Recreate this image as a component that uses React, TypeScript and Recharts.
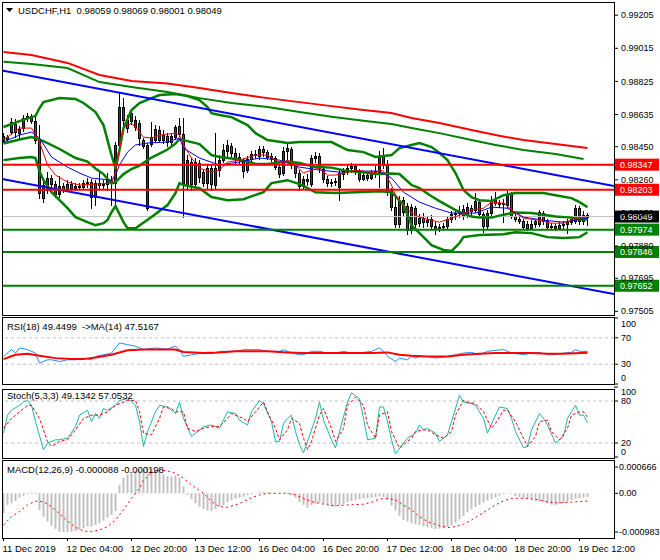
import React from 'react';
import { ComposedChart, Bar, Line, XAxis, YAxis, ReferenceLine } from 'recharts';

const FONT = '"Liberation Sans", Arial, sans-serif';
const FS = 9.5;
const AXIS_FS = 9;

// USDCHF H1 candles, bar 0 = 11 Dec 12:00 ... bar 146 = 19 Dec 14:00
const opens = [
  0.98488, 0.98505, 0.98534, 0.9858, 0.98528, 0.98557, 0.98615, 0.98626, 0.98597, 0.98488,
  0.9823, 0.98201, 0.9827, 0.98235, 0.98178, 0.98224, 0.98207, 0.98235, 0.98212, 0.98224,
  0.98218, 0.98241, 0.98247, 0.98161, 0.98241, 0.9823, 0.98235, 0.98258, 0.98241, 0.9846,
  0.98678, 0.98603, 0.98643, 0.98563, 0.98586, 0.98488, 0.98097, 0.98465, 0.98488, 0.98546,
  0.98488, 0.98511, 0.98477, 0.98505, 0.98569, 0.98523, 0.9823, 0.98362, 0.98235, 0.98356,
  0.98304, 0.98241, 0.98327, 0.9823, 0.98316, 0.98373, 0.98425, 0.98454, 0.98414, 0.98391,
  0.98368, 0.98316, 0.98379, 0.98408, 0.98396, 0.98437, 0.98419, 0.98396, 0.98385, 0.98333,
  0.98299, 0.98425, 0.98437, 0.98345, 0.98299, 0.98224, 0.98264, 0.98235, 0.98385, 0.98396,
  0.98322, 0.98264, 0.98241, 0.98247, 0.98218, 0.98293, 0.98304, 0.98327, 0.98339, 0.9831,
  0.98264, 0.98287, 0.9827, 0.98293, 0.98304, 0.98396, 0.98345, 0.98201, 0.98103, 0.98005,
  0.98143, 0.98109, 0.97971, 0.98097, 0.98011, 0.9804, 0.98017, 0.98034, 0.97994, 0.97977,
  0.97988, 0.97994, 0.98034, 0.98063, 0.98069, 0.98051, 0.98063, 0.98097, 0.98086, 0.98132,
  0.98063, 0.97994, 0.98069, 0.98143, 0.98126, 0.9812, 0.98115, 0.98178, 0.98051, 0.98034,
  0.98023, 0.98005, 0.97982, 0.98005, 0.98005, 0.98069, 0.98023, 0.97988, 0.97994, 0.97982,
  0.98, 0.98005, 0.98017, 0.98023, 0.98097, 0.98023, 0.98059,
];
const highs = [
  0.98528, 0.98517, 0.98615, 0.98609, 0.98569, 0.98632, 0.98643, 0.98637, 0.9862, 0.98574,
  0.9827, 0.98304, 0.98287, 0.98253, 0.98281, 0.98241, 0.98258, 0.98253, 0.98241, 0.98241,
  0.98258, 0.9827, 0.98264, 0.98258, 0.98316, 0.98258, 0.98299, 0.98281, 0.98477, 0.98764,
  0.98729, 0.98632, 0.9866, 0.98626, 0.98603, 0.985, 0.98471, 0.98592, 0.98574, 0.98569,
  0.98546, 0.98528, 0.98528, 0.98574, 0.98615, 0.98615, 0.98402, 0.98385, 0.98385, 0.98373,
  0.98316, 0.9835, 0.98345, 0.98528, 0.98402, 0.98465, 0.98488, 0.98471, 0.98442, 0.98414,
  0.98385, 0.98396, 0.98425, 0.98431, 0.98454, 0.98454, 0.98431, 0.98414, 0.98396, 0.9835,
  0.98448, 0.98471, 0.98448, 0.98356, 0.98316, 0.98281, 0.98293, 0.98402, 0.98419, 0.98414,
  0.98339, 0.98281, 0.98264, 0.9827, 0.98316, 0.98327, 0.98345, 0.98356, 0.9835, 0.98322,
  0.9831, 0.98304, 0.98316, 0.98339, 0.98425, 0.98442, 0.98373, 0.98212, 0.98172, 0.98166,
  0.98161, 0.98126, 0.9812, 0.98109, 0.98063, 0.98069, 0.98051, 0.98057, 0.98017, 0.98005,
  0.98011, 0.98051, 0.9808, 0.98092, 0.98109, 0.98115, 0.98126, 0.98115, 0.98184, 0.98149,
  0.98074, 0.98086, 0.98166, 0.98189, 0.98143, 0.98149, 0.98195, 0.98189, 0.98069, 0.98051,
  0.98034, 0.98023, 0.98028, 0.98034, 0.98086, 0.9808, 0.98034, 0.98011, 0.98005, 0.98017,
  0.98023, 0.98034, 0.98051, 0.98115, 0.98109, 0.9808, 0.98069,
];
const lows = [
  0.98477, 0.98482, 0.98523, 0.98505, 0.98494, 0.9854, 0.98597, 0.98586, 0.98471, 0.98155,
  0.98132, 0.98184, 0.98212, 0.98161, 0.98161, 0.98189, 0.98195, 0.98201, 0.98201, 0.98207,
  0.98207, 0.98218, 0.98097, 0.98115, 0.98212, 0.98207, 0.98201, 0.98115, 0.98115, 0.98431,
  0.98563, 0.98534, 0.9858, 0.98546, 0.9846, 0.98442, 0.98086, 0.98454, 0.98477, 0.98477,
  0.98471, 0.98454, 0.98465, 0.98494, 0.98511, 0.98046, 0.98212, 0.98201, 0.98218, 0.98247,
  0.98224, 0.98212, 0.98201, 0.98207, 0.98281, 0.98362, 0.98391, 0.98385, 0.98356, 0.98356,
  0.98276, 0.98304, 0.98368, 0.98385, 0.98379, 0.98396, 0.98379, 0.98368, 0.98322, 0.98276,
  0.98287, 0.98373, 0.98327, 0.98276, 0.98201, 0.98207, 0.9823, 0.98224, 0.98362, 0.98304,
  0.98247, 0.98224, 0.98224, 0.9823, 0.98143, 0.98264, 0.98293, 0.98304, 0.98293, 0.98253,
  0.98258, 0.98258, 0.98264, 0.98276, 0.98218, 0.98327, 0.98172, 0.98086, 0.97988, 0.97988,
  0.98057, 0.97948, 0.97954, 0.97988, 0.97994, 0.97988, 0.97994, 0.97977, 0.97948, 0.97965,
  0.97971, 0.97982, 0.98017, 0.98034, 0.98046, 0.98034, 0.98046, 0.98057, 0.98074, 0.98046,
  0.97959, 0.97977, 0.98057, 0.98115, 0.98103, 0.98017, 0.98097, 0.9804, 0.98023, 0.98011,
  0.97977, 0.97971, 0.97977, 0.97988, 0.97994, 0.98005, 0.97977, 0.97977, 0.97971, 0.97977,
  0.97982, 0.97954, 0.98005, 0.98011, 0.98005, 0.98005, 0.98001,
];
const closes = [
  0.98511, 0.98494, 0.98592, 0.98534, 0.98551, 0.98615, 0.98626, 0.98597, 0.98488, 0.98184,
  0.98155, 0.9827, 0.98235, 0.98178, 0.98224, 0.98207, 0.98235, 0.98212, 0.98224, 0.98218,
  0.98241, 0.98247, 0.98161, 0.98241, 0.9823, 0.98235, 0.98258, 0.98241, 0.9846, 0.98678,
  0.98603, 0.98557, 0.98597, 0.98603, 0.985, 0.98454, 0.9846, 0.98505, 0.98551, 0.98488,
  0.98517, 0.98477, 0.98511, 0.98563, 0.98523, 0.98241, 0.98373, 0.98235, 0.98362, 0.98276,
  0.98241, 0.98327, 0.98235, 0.98327, 0.98373, 0.98431, 0.9846, 0.98414, 0.98385, 0.98373,
  0.9831, 0.98379, 0.98408, 0.98402, 0.98437, 0.98419, 0.98391, 0.98385, 0.98333, 0.98293,
  0.98425, 0.98442, 0.98345, 0.98299, 0.98224, 0.98264, 0.98253, 0.98385, 0.98396, 0.98327,
  0.98264, 0.98241, 0.98247, 0.98253, 0.98299, 0.9831, 0.98327, 0.98339, 0.9831, 0.98264,
  0.98287, 0.9827, 0.98293, 0.9831, 0.98396, 0.98345, 0.98201, 0.98103, 0.98005, 0.98143,
  0.98074, 0.97971, 0.98103, 0.98005, 0.9804, 0.98017, 0.98028, 0.97994, 0.97977, 0.97988,
  0.97994, 0.98034, 0.98063, 0.98069, 0.9808, 0.98092, 0.98103, 0.9808, 0.98138, 0.98063,
  0.97994, 0.98069, 0.98143, 0.98126, 0.9812, 0.98126, 0.98178, 0.98051, 0.98034, 0.98023,
  0.97988, 0.97982, 0.98005, 0.98023, 0.98074, 0.98023, 0.97988, 0.97994, 0.97982, 0.98,
  0.98005, 0.98017, 0.98034, 0.98097, 0.98023, 0.98057, 0.98049,
];

// indicator lines, [bar, value]
const slowMaRed = [
  [0, 0.98994], [7, 0.98976], [16, 0.98931], [24, 0.98862], [32, 0.98827], [41, 0.98813],
  [49, 0.98787], [57, 0.98758], [66, 0.98729], [74, 0.98706], [82, 0.98683], [90, 0.98661],
  [97, 0.98643], [102, 0.98615], [109, 0.98586], [117, 0.98546], [123, 0.98517], [130, 0.98488],
  [138, 0.98465], [146, 0.98442],
];
const slowMaGreen = [
  [0, 0.98938], [7, 0.98925], [16, 0.98902], [24, 0.98821], [32, 0.98793], [41, 0.98764],
  [49, 0.98729], [57, 0.98701], [66, 0.98678], [74, 0.98649], [82, 0.98622], [90, 0.98599],
  [97, 0.9858], [102, 0.98557], [109, 0.98528], [117, 0.98488], [123, 0.9846], [130, 0.98431],
  [138, 0.98408], [145, 0.98379],
];
const bbUpper = [
  [0, 0.98563], [4, 0.98597], [7, 0.9862], [8, 0.98626], [9, 0.98672], [10, 0.98706], [14, 0.98729],
  [18, 0.98724], [20, 0.98701], [23, 0.98649], [25, 0.98574], [26, 0.98488], [27, 0.98402],
  [28, 0.98327], [29, 0.98431], [30, 0.98557], [32, 0.98661], [34, 0.98701], [37, 0.98729],
  [39, 0.98747], [43, 0.98752], [46, 0.98741], [49, 0.98718], [51, 0.98678], [52, 0.98643],
  [54, 0.98632], [57, 0.9862], [61, 0.98574], [63, 0.98528], [66, 0.98488], [71, 0.98471],
  [74, 0.98477], [82, 0.98477], [86, 0.98431], [90, 0.98419], [93, 0.98391], [97, 0.98402],
  [99, 0.98442], [102, 0.9846], [104, 0.98471], [107, 0.98448], [109, 0.98414], [111, 0.98373],
  [113, 0.98299], [115, 0.98201], [117, 0.98161], [119, 0.98143], [122, 0.98138], [125, 0.98172],
  [128, 0.98184], [135, 0.98184], [138, 0.98172], [142, 0.98155], [144, 0.98132], [146, 0.98103],
];
const bbMiddle = [
  [0, 0.98468], [4, 0.98491], [7, 0.98505], [10, 0.98482], [14, 0.98437], [18, 0.98385],
  [21, 0.98365], [23, 0.98325], [25, 0.98293], [27, 0.98239], [28, 0.98247], [29, 0.9827],
  [30, 0.98293], [32, 0.98322], [34, 0.98342], [37, 0.98388], [39, 0.98411], [41, 0.98434],
  [43, 0.98468], [44, 0.98494], [46, 0.98482], [49, 0.98465], [52, 0.98402], [54, 0.98391],
  [57, 0.98382], [61, 0.98365], [63, 0.98351], [66, 0.98351], [71, 0.98365], [74, 0.98356],
  [78, 0.98333], [82, 0.9833], [86, 0.9831], [90, 0.98304], [93, 0.98293], [97, 0.98296],
  [99, 0.98293], [102, 0.9823], [104, 0.98212], [107, 0.98166], [109, 0.98138], [111, 0.98112],
  [113, 0.98086], [115, 0.98066], [117, 0.98049], [119, 0.98043], [122, 0.98043], [125, 0.9806],
  [128, 0.98072], [132, 0.98069], [135, 0.9806], [138, 0.98049], [142, 0.98043], [144, 0.98032],
  [146, 0.98032],
];
const bbLower = [
  [0, 0.98373], [4, 0.98385], [7, 0.98391], [8, 0.98385], [9, 0.9831], [10, 0.98258], [12, 0.98189],
  [14, 0.98143], [16, 0.98097], [18, 0.98046], [21, 0.98017], [23, 0.98], [25, 0.98011],
  [26, 0.98029], [27, 0.98074], [28, 0.98109], [29, 0.98063], [30, 0.98017], [31, 0.97982],
  [33, 0.97982], [37, 0.98046], [41, 0.98115], [43, 0.98184], [44, 0.98241], [45, 0.9823],
  [49, 0.98212], [52, 0.98161], [56, 0.98143], [60, 0.98149], [65, 0.98189], [67, 0.98241],
  [71, 0.98258], [74, 0.98235], [78, 0.98189], [83, 0.98184], [88, 0.98189], [94, 0.98195],
  [97, 0.98189], [98, 0.98166], [100, 0.98115], [102, 0.98], [105, 0.97931], [107, 0.97885],
  [110, 0.97857], [112, 0.97851], [114, 0.97897], [115, 0.97931], [119, 0.97943], [125, 0.97948],
  [128, 0.97959], [132, 0.97954], [136, 0.97931], [140, 0.97926], [144, 0.97931], [146, 0.97959],
];
const fastMaRed = [
  [0, 0.98488], [4, 0.98557], [7, 0.98557], [9, 0.98477], [11, 0.98345], [13, 0.98287],
  [16, 0.98247], [19, 0.9823], [27, 0.98241], [28, 0.98304], [29, 0.98431], [30, 0.98557],
  [32, 0.98586], [34, 0.98534], [35, 0.98505], [37, 0.985], [39, 0.98517], [43, 0.98528],
  [44, 0.98517], [45, 0.9846], [47, 0.98385], [49, 0.98327], [52, 0.98304], [54, 0.98316],
  [56, 0.98362], [59, 0.98373], [63, 0.98402], [66, 0.98402], [68, 0.98373], [70, 0.98356],
  [71, 0.98373], [73, 0.98345], [75, 0.98299], [77, 0.98316], [79, 0.98327], [81, 0.98287],
  [83, 0.98287], [86, 0.98304], [88, 0.98316], [93, 0.98299], [94, 0.98316], [95, 0.9831],
  [97, 0.9823], [98, 0.98172], [100, 0.98115], [102, 0.98069], [104, 0.98046], [107, 0.98028],
  [109, 0.98017], [112, 0.9804], [114, 0.98057], [117, 0.98086], [120, 0.98097], [122, 0.98132],
  [125, 0.98126], [128, 0.98069], [130, 0.9804], [134, 0.98028], [137, 0.98011], [140, 0.98011],
  [143, 0.9804], [146, 0.98046],
];
const fastMaBlue = [
  [0, 0.98477], [4, 0.98517], [7, 0.98534], [9, 0.985], [12, 0.98391], [16, 0.98333],
  [19, 0.98299], [22, 0.9827], [27, 0.98258], [28, 0.98287], [29, 0.98345], [31, 0.98419],
  [33, 0.9846], [36, 0.98471], [41, 0.98477], [44, 0.985], [45, 0.98442], [49, 0.98385],
  [54, 0.98345], [57, 0.98356], [59, 0.98362], [64, 0.98385], [69, 0.98373], [74, 0.98333],
  [79, 0.98316], [84, 0.98304], [88, 0.9831], [94, 0.9831], [97, 0.9827], [100, 0.98189],
  [104, 0.98132], [108, 0.98097], [112, 0.98069], [118, 0.98069], [122, 0.98103], [126, 0.98097],
  [130, 0.98046], [135, 0.98028], [140, 0.98017], [146, 0.9804],
];

// drawn objects
const trendUpper = [[-0.375, 0.98887], [152.625, 0.98224]];
const trendLower = [[-0.375, 0.98265], [152.625, 0.97604]];
const redLevels = [0.98347, 0.98203];
const greenLevels = [0.97974, 0.97846, 0.97652];
const lastPrice = 0.98049;
const priceTicks = [0.99205, 0.99015, 0.98825, 0.98635, 0.9845, 0.9826, 0.9807, 0.9788, 0.97695, 0.97505];

// RSI(18) and its MA(14)
const rsiLine = [
  [0, 41.8], [2, 52.1], [3, 46.9], [4, 54.6], [6, 52.1], [8, 46.9], [9, 31.5], [11, 36.7], [12, 36.7],
  [14, 34.1], [16, 36.7], [18, 36.7], [20, 39.2], [22, 36.7], [23, 41.8], [25, 44.4], [27, 46.9],
  [29, 62.3], [31, 59.7], [33, 57.2], [35, 52.1], [36, 53.1], [38, 54.6], [40, 53.1], [41, 53.1],
  [43, 57.2], [44, 52.1], [45, 41.8], [47, 44.4], [50, 46.9], [52, 45.9], [54, 49.5], [56, 49.5],
  [58, 49.5], [60, 52.1], [62, 52.1], [64, 52.1], [66, 49.5], [69, 49.5], [70, 52.1], [72, 46.9],
  [74, 44.4], [75, 44.4], [77, 49.5], [79, 49.5], [81, 46.9], [83, 46.9], [85, 49.5], [87, 46.9],
  [90, 47.9], [92, 49.5], [94, 54.6], [95, 49.5], [96, 41.8], [98, 34.1], [99, 39.2], [101, 36.7],
  [102, 41.8], [103, 39.2], [104, 41.8], [106, 41.8], [108, 39.2], [111, 41.8], [113, 44.4],
  [115, 46.9], [117, 47.9], [119, 44.4], [121, 49.5], [123, 51.0], [125, 52.1], [127, 46.9],
  [130, 44.4], [132, 46.9], [134, 47.9], [136, 44.4], [138, 44.4], [140, 46.9], [142, 47.9],
  [143, 52.1], [144, 49.5], [146, 49.4],
];
const rsiMa = [
  [0, 37.7], [3, 44.4], [6, 45.9], [9, 42.8], [13, 39.2], [17, 37.7], [20, 37.7], [23, 40.3],
  [27, 44.4], [31, 51.0], [35, 52.1], [39, 52.1], [43, 52.1], [45, 48.5], [50, 46.9], [54, 47.9],
  [58, 49.5], [62, 49.5], [66, 49.5], [71, 47.9], [75, 46.9], [79, 46.9], [83, 46.9], [87, 46.9],
  [92, 46.9], [96, 47.9], [99, 44.4], [102, 42.8], [106, 41.8], [111, 41.8], [115, 44.4],
  [119, 45.9], [123, 46.9], [127, 46.9], [132, 46.9], [136, 45.9], [140, 45.9], [146, 47.5],
];

// Stochastic(5,3,3)
const stochMain = [
  [0, 34.0], [1, 59.8], [2, 66.8], [4, 73.8], [5, 78.5], [6, 80.9], [7, 73.8], [8, 50.4], [10, 10.5],
  [11, 19.9], [13, 24.6], [14, 24.6], [16, 26.9], [18, 43.4], [19, 59.8], [21, 66.8], [22, 50.4],
  [23, 62.1], [24, 55.1], [25, 69.2], [26, 66.8], [28, 73.8], [29, 80.9], [31, 83.2], [32, 79.4],
  [33, 73.8], [34, 50.4], [35, 15.2], [36, 36.3], [38, 64.5], [39, 73.8], [41, 71.5], [42, 66.8],
  [43, 62.1], [44, 78.5], [45, 55.1], [47, 29.3], [49, 38.7], [50, 43.4], [52, 45.7], [54, 41.0],
  [56, 64.5], [58, 62.1], [59, 52.7], [61, 45.7], [62, 64.5], [64, 80.9], [65, 76.2], [67, 50.4],
  [68, 22.3], [69, 22.3], [70, 48.0], [71, 55.1], [72, 59.8], [73, 36.3], [74, 17.6], [75, 5.9],
  [76, 22.3], [78, 55.1], [79, 78.5], [80, 52.7], [82, 24.6], [83, 12.9], [84, 36.3], [86, 78.5],
  [87, 91.7], [89, 83.2], [90, 55.1], [91, 24.6], [93, 26.9], [94, 71.5], [95, 71.5], [96, 50.4],
  [97, 24.6], [98, 4.5], [100, 19.9], [101, 26.9], [103, 34.0], [104, 45.7], [105, 38.7], [106, 41.0],
  [108, 34.0], [109, 22.3], [111, 31.6], [112, 50.4], [114, 87.9], [115, 78.5], [117, 76.2],
  [118, 73.8], [120, 55.1], [121, 34.0], [123, 59.8], [124, 71.5], [126, 69.2], [127, 55.1],
  [128, 36.3], [130, 12.9], [131, 15.2], [132, 38.7], [134, 62.1], [135, 55.1], [136, 45.7],
  [138, 19.9], [140, 29.3], [141, 55.1], [143, 73.8], [144, 59.8], [145, 59.8], [146, 49.1],
];
const stochSignal = [
  [0, 41.0], [2, 55.1], [4, 64.5], [6, 73.8], [7, 73.8], [9, 55.1], [11, 22.3], [12, 15.2], [14, 22.3],
  [16, 24.6], [18, 38.7], [20, 55.1], [22, 59.8], [24, 59.8], [26, 64.5], [28, 73.8], [31, 80.9],
  [33, 80.9], [34, 64.5], [35, 34.0], [37, 31.6], [39, 55.1], [40, 71.5], [42, 69.2], [43, 64.5],
  [45, 64.5], [46, 41.0], [48, 36.3], [50, 41.0], [52, 43.4], [54, 43.4], [56, 55.1], [57, 62.1],
  [60, 55.1], [61, 50.4], [63, 64.5], [65, 78.5], [66, 64.5], [68, 41.0], [69, 24.6], [71, 38.7],
  [72, 55.1], [74, 48.0], [75, 26.9], [76, 10.5], [77, 22.3], [79, 59.8], [80, 69.2], [82, 41.0],
  [83, 22.3], [85, 41.0], [86, 73.8], [88, 85.5], [90, 73.8], [91, 45.7], [93, 26.9], [94, 59.8],
  [96, 64.5], [97, 36.3], [99, 12.9], [100, 17.6], [102, 26.9], [103, 36.3], [105, 38.7],
  [106, 38.7], [108, 31.6], [110, 26.9], [112, 36.3], [113, 59.8], [115, 80.9], [116, 78.5],
  [118, 76.2], [120, 64.5], [122, 41.0], [123, 48.0], [125, 66.8], [126, 66.8], [128, 50.4],
  [130, 26.9], [131, 15.2], [133, 29.3], [134, 50.4], [136, 52.7], [137, 36.3], [139, 24.6],
  [141, 41.0], [142, 59.8], [144, 64.5], [145, 64.5], [146, 57.1],
];

// MACD(12,26,9): main line as histogram, one value per bar
const macdMain = [
  -0.000508, -0.000296, -0.000254, -0.000195, -0.00011, -0.000059, -0.000025, -0.000017, -0.000025, -0.000423,
  -0.000592, -0.000719, -0.000821, -0.000905, -0.000973, -0.000983, -0.00098, -0.000973, -0.000956, -0.000931,
  -0.000888, -0.000846, -0.000846, -0.000804, -0.000761, -0.000694, -0.000618, -0.00055, -0.000448, 0.000212,
  0.000398, 0.000482, 0.000533, 0.000575, 0.000601, 0.000618, 0.000666, 0.000618, 0.000592, 0.00055,
  0.000482, 0.00044, 0.000423, 0.000448, 0.000398, 0.000169, -0.000042, -0.000152, -0.000254, -0.000338,
  -0.000398, -0.00044, -0.000448, -0.000406, -0.000338, -0.000296, -0.000228, -0.000178, -0.000135, -0.00011,
  -0.000085, -0.000051, -0.000025, 0.000004, 0.000025, 0.000034, 0.000025, 0.000017, 0.000008, -0.000008,
  0.000002, -0.000017, -0.000051, -0.00011, -0.000212, -0.000296, -0.000364, -0.000296, -0.000262, -0.000228,
  -0.000262, -0.000296, -0.000338, -0.000338, -0.000296, -0.000262, -0.00022, -0.000195, -0.000169, -0.000152,
  -0.000135, -0.000118, -0.00011, -0.000102, -0.000076, -0.000093, -0.000178, -0.000313, -0.00044, -0.000567,
  -0.000677, -0.000719, -0.000761, -0.000787, -0.000804, -0.000838, -0.000863, -0.000888, -0.000905, -0.000897,
  -0.00088, -0.000854, -0.000804, -0.000744, -0.00066, -0.000575, -0.000482, -0.000406, -0.000347, -0.000296,
  -0.000237, -0.000186, -0.000144, -0.000102, -0.000059, -0.000025, -0.000008, -0.000025, -0.000076, -0.000102,
  -0.000127, -0.000135, -0.000161, -0.000195, -0.000212, -0.000228, -0.000254, -0.000288, -0.000296, -0.000279,
  -0.000254, -0.000212, -0.000169, -0.000135, -0.000127, -0.00011, -0.000088,
];
const macdSignal = [
  [0, -0.000804], [2, -0.000592], [4, -0.000465], [6, -0.000296], [8, -0.0002], [10, -0.000215],
  [12, -0.00034], [14, -0.00052], [16, -0.0007], [18, -0.00086], [20, -0.00096], [22, -0.000975],
  [24, -0.000931], [26, -0.000846], [28, -0.000677], [30, -0.000423], [32, -0.000127], [34, 0.000127],
  [35, 0.000338], [37, 0.000508], [39, 0.000592], [41, 0.000567], [43, 0.000508], [45, 0.000381],
  [47, 0.000212], [50, 0], [52, -0.000212], [54, -0.000338], [56, -0.000355], [58, -0.000296],
  [60, -0.000212], [62, -0.00011], [64, -0.000042], [66, 0], [69, 0], [71, 0], [73, -0.000042],
  [75, -0.000127], [77, -0.000212], [79, -0.000254], [81, -0.000296], [83, -0.000313], [86, -0.000296],
  [90, -0.000279], [92, -0.000228], [94, -0.000144], [96, -0.000127], [98, -0.000169], [100, -0.000296],
  [102, -0.000423], [104, -0.000592], [106, -0.000719], [109, -0.000821], [111, -0.000871],
  [113, -0.000846], [115, -0.000787], [117, -0.000677], [119, -0.00055], [121, -0.000423],
  [123, -0.000296], [125, -0.000195], [127, -0.000127], [130, -0.000127], [132, -0.000144],
  [134, -0.000169], [136, -0.00022], [138, -0.00024], [140, -0.000235], [142, -0.000225],
  [144, -0.00021], [146, -0.000198],
];

const timeTickBars = [0, 16, 32, 48, 64, 80, 96, 112, 128, 144];
const timeLabels = [
  '11 Dec 2019', '12 Dec 04:00', '12 Dec 20:00', '13 Dec 12:00', '16 Dec 04:00',
  '16 Dec 20:00', '17 Dec 12:00', '18 Dec 04:00', '18 Dec 20:00', '19 Dec 12:00',
];

const X_DOMAIN = [-0.375, 152.625];

function put(rows: any[], key: string, pts: number[][]) {
  pts.forEach(([i, v]) => {
    if (rows[i]) rows[i][key] = v;
  });
}

const mainRows: any[] = opens.map((o, i) => ({
  i,
  open: o,
  high: highs[i],
  low: lows[i],
  close: closes[i],
  range: [lows[i], highs[i]],
}));
put(mainRows, 'maRed', slowMaRed);
put(mainRows, 'maGreen', slowMaGreen);
put(mainRows, 'bbUp', bbUpper);
put(mainRows, 'bbMid', bbMiddle);
put(mainRows, 'bbLow', bbLower);
put(mainRows, 'fastRed', fastMaRed);
put(mainRows, 'fastBlue', fastMaBlue);

const rsiRows: any[] = opens.map((_, i) => ({ i }));
put(rsiRows, 'rsi', rsiLine);
put(rsiRows, 'rsiMa', rsiMa);

const stochRows: any[] = opens.map((_, i) => ({ i }));
put(stochRows, 'main', stochMain);
put(stochRows, 'signal', stochSignal);

const macdRows: any[] = macdMain.map((v, i) => ({ i, macd: v }));
put(macdRows, 'signal', macdSignal);

const Candle = (props: any) => {
  const { x, y, width, height, payload } = props;
  if (!payload || x == null) return null;
  const { open, close, high, low } = payload;
  const top = Math.min(y, y + height);
  const h = Math.abs(height);
  const cx = Math.floor(x + width / 2) + 0.5;
  const span = high - low;
  const toY = (v: number) => (span > 0 ? top + ((high - v) / span) * h : top);
  const bTop = Math.round(toY(Math.max(open, close))) + 0.5;
  const bBot = Math.round(toY(Math.min(open, close))) + 0.5;
  const bull = close > open;
  return (
    <g shapeRendering="crispEdges">
      <line x1={cx} x2={cx} y1={Math.round(top)} y2={Math.round(top + h) + 1} stroke="#000" />
      {bBot - bTop < 1 ? (
        <line x1={cx - 1.5} x2={cx + 1.5} y1={bTop} y2={bTop} stroke="#000" />
      ) : (
        <rect x={cx - 1} y={bTop} width={2} height={bBot - bTop} fill={bull ? '#006400' : '#ff0000'} stroke="#000" />
      )}
    </g>
  );
};

const PriceTag = (props: any) => {
  const { viewBox, text, bg } = props;
  if (!viewBox) return null;
  const x = viewBox.x + viewBox.width + 1;
  const y = viewBox.y;
  return (
    <g>
      <rect x={x} y={y - 6} width={44} height={12} fill={bg} />
      <text x={x + 5} y={y} dy="0.35em" fill="#fff" fontSize={AXIS_FS} fontFamily={FONT}>
        {text}
      </text>
    </g>
  );
};

const sideTick = (fmt: (v: number) => string, nudge: Record<string, number>, dx = 0) => (props: any) => {
  const { x, y, payload } = props;
  const v = payload.value;
  return (
    <text x={x + dx} y={y + (nudge[String(v)] || 0)} dy="0.35em" fontSize={AXIS_FS} fontFamily={FONT} fill="#000" textAnchor="start">
      {fmt(v)}
    </text>
  );
};

const TimeTick = (props: any) => {
  const { x, y, payload } = props;
  const k = timeTickBars.indexOf(payload.value);
  return (
    <text x={x - 1} y={y + 9} fontSize={FS} fontFamily={FONT} fill="#000" textAnchor="start">
      {timeLabels[k]}
    </text>
  );
};

const lineProps = { dot: false, connectNulls: true, isAnimationActive: false, type: 'linear' as const, activeDot: false };

const panelBorder = (top: number, height: number) => (
  <div
    style={{
      position: 'absolute',
      left: 2,
      top,
      width: 613,
      height,
      border: '1px solid #000',
      boxSizing: 'border-box',
      pointerEvents: 'none',
    }}
  />
);

const caption = (top: number, left: number, text: string) => (
  <div
    style={{
      position: 'absolute',
      left,
      top,
      fontSize: FS,
      lineHeight: '11px',
      fontFamily: FONT,
      whiteSpace: 'pre',
      color: '#000',
    }}
  >
    {text}
  </div>
);

const App = () => {
  return (
    <div style={{ position: 'absolute', left: 0, top: 0, width: 660, height: 560, background: '#fff', overflow: 'hidden' }}>
      {/* main price window */}
      <div style={{ position: 'absolute', left: 0, top: 0 }}>
        <ComposedChart width={660} height={316} data={mainRows} margin={{ top: 3, right: 0, bottom: 1, left: 2 }}>
          <XAxis dataKey="i" type="number" domain={X_DOMAIN} hide allowDataOverflow />
          <YAxis
            orientation="right"
            domain={[0.97484, 0.99275]}
            ticks={priceTicks}
            interval={0}
            allowDataOverflow
            width={46}
            tickSize={4}
            tickMargin={3}
            axisLine={false}
            tickLine={{ stroke: '#000' }}
            tick={sideTick((v) => v.toFixed(5), {})}
          />
          <ReferenceLine y={lastPrice} stroke="#c0c0c0" strokeWidth={1} />
          <Bar dataKey="range" barSize={3} shape={(p: any) => <Candle {...p} />} isAnimationActive={false} />
          <Line dataKey="maRed" stroke="#ff0000" strokeWidth={2} {...lineProps} />
          <Line dataKey="maGreen" stroke="#008000" strokeWidth={2} {...lineProps} />
          <Line dataKey="bbUp" stroke="#008000" strokeWidth={2.5} {...lineProps} />
          <Line dataKey="bbMid" stroke="#008000" strokeWidth={2.5} {...lineProps} />
          <Line dataKey="bbLow" stroke="#008000" strokeWidth={2.5} {...lineProps} />
          <Line dataKey="fastBlue" stroke="#0000ff" strokeWidth={1} {...lineProps} />
          <Line dataKey="fastRed" stroke="#ff0000" strokeWidth={1} {...lineProps} />
          <ReferenceLine
            segment={trendUpper.map(([x, y]) => ({ x, y }))}
            stroke="#0000ff"
            strokeWidth={2}
            ifOverflow="hidden"
          />
          <ReferenceLine
            segment={trendLower.map(([x, y]) => ({ x, y }))}
            stroke="#0000ff"
            strokeWidth={2}
            ifOverflow="hidden"
          />
          {redLevels.map((v) => (
            <ReferenceLine key={v} y={v} stroke="#ff0000" strokeWidth={2} label={<PriceTag text={v.toFixed(5)} bg="#ff0000" />} />
          ))}
          {greenLevels.map((v) => (
            <ReferenceLine key={v} y={v} stroke="#008000" strokeWidth={2} label={<PriceTag text={v.toFixed(5)} bg="#008000" />} />
          ))}
          <ReferenceLine y={lastPrice} stroke="none" label={<PriceTag text={lastPrice.toFixed(5)} bg="#000000" />} />
        </ComposedChart>
      </div>

      {/* RSI window */}
      <div style={{ position: 'absolute', left: 0, top: 314 }}>
        <ComposedChart width={660} height={72} data={rsiRows} margin={{ top: 4, right: 0, bottom: 2, left: 2 }}>
          <XAxis dataKey="i" type="number" domain={X_DOMAIN} hide allowDataOverflow />
          <YAxis
            orientation="right"
            domain={[0, 100]}
            ticks={[0, 30, 70, 100]}
            interval={0}
            width={46}
            tickSize={4}
            tickMargin={3}
            axisLine={false}
            tickLine={{ stroke: '#000' }}
            tick={sideTick((v) => String(v), { '100': 6, '0': -6 })}
          />
          <ReferenceLine y={70} stroke="#c0c0c0" strokeDasharray="3 3" />
          <ReferenceLine y={30} stroke="#c0c0c0" strokeDasharray="3 3" />
          <Line dataKey="rsi" stroke="#1e90ff" strokeWidth={1} {...lineProps} />
          <Line dataKey="rsiMa" stroke="#ff0000" strokeWidth={2} {...lineProps} />
        </ComposedChart>
      </div>

      {/* Stochastic window */}
      <div style={{ position: 'absolute', left: 0, top: 382 }}>
        <ComposedChart width={660} height={78} data={stochRows} margin={{ top: 5, right: 0, bottom: 3, left: 2 }}>
          <XAxis dataKey="i" type="number" domain={X_DOMAIN} hide allowDataOverflow />
          <YAxis
            orientation="right"
            domain={[0, 100]}
            ticks={[0, 20, 80, 100]}
            interval={0}
            width={46}
            tickSize={4}
            tickMargin={3}
            axisLine={false}
            tickLine={{ stroke: '#000' }}
            tick={sideTick((v) => String(v), { '100': 5, '0': -5 })}
          />
          <ReferenceLine y={80} stroke="#c0c0c0" strokeDasharray="3 3" />
          <ReferenceLine y={20} stroke="#c0c0c0" strokeDasharray="3 3" />
          <Line dataKey="main" stroke="#20b2aa" strokeWidth={1} {...lineProps} />
          <Line dataKey="signal" stroke="#ff0000" strokeWidth={1} strokeDasharray="3 2" {...lineProps} />
        </ComposedChart>
      </div>

      {/* MACD window with time axis */}
      <div style={{ position: 'absolute', left: 0, top: 455 }}>
        <ComposedChart width={660} height={105} data={macdRows} margin={{ top: 5, right: 0, bottom: 0, left: 2 }}>
          <XAxis
            dataKey="i"
            type="number"
            domain={X_DOMAIN}
            allowDataOverflow
            ticks={timeTickBars}
            interval={0}
            height={22}
            tickSize={3}
            tickMargin={2}
            axisLine={false}
            tickLine={{ stroke: '#000' }}
            tick={<TimeTick />}
          />
          <YAxis
            orientation="right"
            domain={[-0.001135, 0.000845]}
            ticks={[-0.000983, 0, 0.000666]}
            interval={0}
            allowDataOverflow
            width={46}
            tickSize={4}
            tickMargin={3}
            axisLine={false}
            tickLine={{ stroke: '#000' }}
            tick={sideTick((v) => (v === 0 ? '0.00' : v.toFixed(6)), {}, -2)}
          />
          <Bar dataKey="macd" fill="#c0c0c0" barSize={2} isAnimationActive={false} />
          <Line dataKey="signal" stroke="#ff0000" strokeWidth={1} strokeDasharray="2 3" {...lineProps} />
        </ComposedChart>
      </div>

      {panelBorder(2, 314)}
      {panelBorder(317, 68)}
      {panelBorder(389, 70)}
      {panelBorder(460, 79)}

      <svg style={{ position: 'absolute', left: 6, top: 8 }} width={8} height={6}>
        <polygon points="0,0 7,0 3.5,4" fill="#000" />
      </svg>
      {caption(5, 18, 'USDCHF,H1  0.98059 0.98069 0.98001 0.98049')}
      {caption(321, 7, 'RSI(18) 49.4499  ->MA(14) 47.5167')}
      {caption(390, 7, 'Stoch(5,3,3) 49.1342 57.0532')}
      {caption(464, 7, 'MACD(12,26,9) -0.000088 -0.000198')}
    </div>
  );
};

export default App;
